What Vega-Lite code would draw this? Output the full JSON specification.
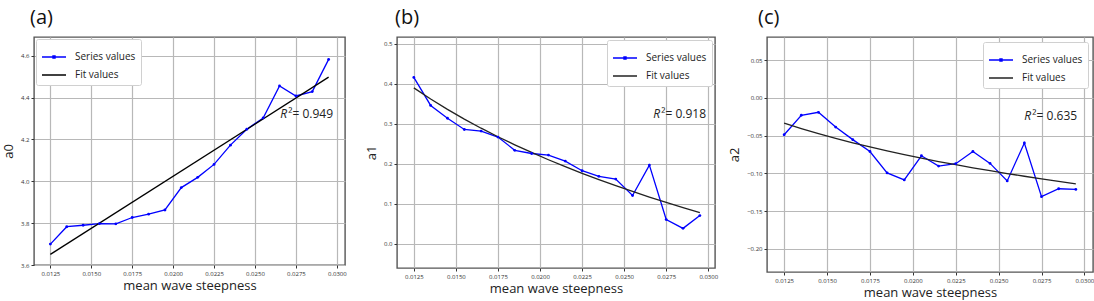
{
  "$schema": "https://vega.github.io/schema/vega-lite/v6.json",
  "padding": {"left": 1, "top": 7, "right": 2, "bottom": 0},
  "bounds": "flush",
  "spacing": 52,
  "datasets": {
    "a": [
      {"x": 0.0125, "y": 3.70, "k": "Series values"},
      {"x": 0.0135, "y": 3.783, "k": "Series values"},
      {"x": 0.0145, "y": 3.79, "k": "Series values"},
      {"x": 0.0155, "y": 3.798, "k": "Series values"},
      {"x": 0.0165, "y": 3.797, "k": "Series values"},
      {"x": 0.0175, "y": 3.827, "k": "Series values"},
      {"x": 0.0185, "y": 3.843, "k": "Series values"},
      {"x": 0.0195, "y": 3.863, "k": "Series values"},
      {"x": 0.0205, "y": 3.97, "k": "Series values"},
      {"x": 0.0215, "y": 4.019, "k": "Series values"},
      {"x": 0.0225, "y": 4.081, "k": "Series values"},
      {"x": 0.0235, "y": 4.173, "k": "Series values"},
      {"x": 0.0245, "y": 4.249, "k": "Series values"},
      {"x": 0.0255, "y": 4.303, "k": "Series values"},
      {"x": 0.0265, "y": 4.456, "k": "Series values"},
      {"x": 0.0275, "y": 4.408, "k": "Series values"},
      {"x": 0.0285, "y": 4.429, "k": "Series values"},
      {"x": 0.0295, "y": 4.583, "k": "Series values"},
      {"x": 0.0125, "y": 3.651, "k": "Fit values"},
      {"x": 0.0295, "y": 4.498, "k": "Fit values"}
    ],
    "b": [
      {"x": 0.0125, "y": 0.416, "k": "Series values"},
      {"x": 0.0135, "y": 0.346, "k": "Series values"},
      {"x": 0.0145, "y": 0.314, "k": "Series values"},
      {"x": 0.0155, "y": 0.286, "k": "Series values"},
      {"x": 0.0165, "y": 0.282, "k": "Series values"},
      {"x": 0.0175, "y": 0.267, "k": "Series values"},
      {"x": 0.0185, "y": 0.234, "k": "Series values"},
      {"x": 0.0195, "y": 0.226, "k": "Series values"},
      {"x": 0.0205, "y": 0.222, "k": "Series values"},
      {"x": 0.0215, "y": 0.207, "k": "Series values"},
      {"x": 0.0225, "y": 0.183, "k": "Series values"},
      {"x": 0.0235, "y": 0.169, "k": "Series values"},
      {"x": 0.0245, "y": 0.162, "k": "Series values"},
      {"x": 0.0255, "y": 0.121, "k": "Series values"},
      {"x": 0.0265, "y": 0.197, "k": "Series values"},
      {"x": 0.0275, "y": 0.061, "k": "Series values"},
      {"x": 0.0285, "y": 0.039, "k": "Series values"},
      {"x": 0.0295, "y": 0.071, "k": "Series values"},
      {"x": 0.0125, "y": 0.390, "k": "Fit values"},
      {"x": 0.0135, "y": 0.3621, "k": "Fit values"},
      {"x": 0.0145, "y": 0.3361, "k": "Fit values"},
      {"x": 0.0155, "y": 0.3119, "k": "Fit values"},
      {"x": 0.0165, "y": 0.2892, "k": "Fit values"},
      {"x": 0.0175, "y": 0.2679, "k": "Fit values"},
      {"x": 0.0185, "y": 0.2477, "k": "Fit values"},
      {"x": 0.0195, "y": 0.2286, "k": "Fit values"},
      {"x": 0.0205, "y": 0.2104, "k": "Fit values"},
      {"x": 0.0215, "y": 0.1931, "k": "Fit values"},
      {"x": 0.0225, "y": 0.1766, "k": "Fit values"},
      {"x": 0.0235, "y": 0.1608, "k": "Fit values"},
      {"x": 0.0245, "y": 0.1457, "k": "Fit values"},
      {"x": 0.0255, "y": 0.1312, "k": "Fit values"},
      {"x": 0.0265, "y": 0.1172, "k": "Fit values"},
      {"x": 0.0275, "y": 0.1038, "k": "Fit values"},
      {"x": 0.0285, "y": 0.0909, "k": "Fit values"},
      {"x": 0.0295, "y": 0.0783, "k": "Fit values"}
    ],
    "c": [
      {"x": 0.0125, "y": -0.0488, "k": "Series values"},
      {"x": 0.0135, "y": -0.0230, "k": "Series values"},
      {"x": 0.0145, "y": -0.0191, "k": "Series values"},
      {"x": 0.0155, "y": -0.0387, "k": "Series values"},
      {"x": 0.0165, "y": -0.0553, "k": "Series values"},
      {"x": 0.0175, "y": -0.0710, "k": "Series values"},
      {"x": 0.0185, "y": -0.0994, "k": "Series values"},
      {"x": 0.0195, "y": -0.1087, "k": "Series values"},
      {"x": 0.0205, "y": -0.0767, "k": "Series values"},
      {"x": 0.0215, "y": -0.0903, "k": "Series values"},
      {"x": 0.0225, "y": -0.0872, "k": "Series values"},
      {"x": 0.0235, "y": -0.0710, "k": "Series values"},
      {"x": 0.0245, "y": -0.0868, "k": "Series values"},
      {"x": 0.0255, "y": -0.1100, "k": "Series values"},
      {"x": 0.0265, "y": -0.0597, "k": "Series values"},
      {"x": 0.0275, "y": -0.1309, "k": "Series values"},
      {"x": 0.0285, "y": -0.1204, "k": "Series values"},
      {"x": 0.0295, "y": -0.1213, "k": "Series values"},
      {"x": 0.0125, "y": -0.0335, "k": "Fit values"},
      {"x": 0.0135, "y": -0.0407, "k": "Fit values"},
      {"x": 0.0145, "y": -0.0474, "k": "Fit values"},
      {"x": 0.0155, "y": -0.0536, "k": "Fit values"},
      {"x": 0.0165, "y": -0.0595, "k": "Fit values"},
      {"x": 0.0175, "y": -0.0650, "k": "Fit values"},
      {"x": 0.0185, "y": -0.0702, "k": "Fit values"},
      {"x": 0.0195, "y": -0.0751, "k": "Fit values"},
      {"x": 0.0205, "y": -0.0798, "k": "Fit values"},
      {"x": 0.0215, "y": -0.0843, "k": "Fit values"},
      {"x": 0.0225, "y": -0.0885, "k": "Fit values"},
      {"x": 0.0235, "y": -0.0926, "k": "Fit values"},
      {"x": 0.0245, "y": -0.0965, "k": "Fit values"},
      {"x": 0.0255, "y": -0.1002, "k": "Fit values"},
      {"x": 0.0265, "y": -0.1038, "k": "Fit values"},
      {"x": 0.0275, "y": -0.1073, "k": "Fit values"},
      {"x": 0.0285, "y": -0.1106, "k": "Fit values"},
      {"x": 0.0295, "y": -0.1139, "k": "Fit values"}
    ],
    "ra": [{"x": 0.02655, "y": 4.32, "label": "²= 0.949"}],
    "rb": [{"x": 0.02673, "y": 0.3245, "label": "²= 0.918"}],
    "rc": [{"x": 0.0265, "y": -0.0243, "label": "²= 0.635"}]
  },
  "hconcat": [
    {
      "width": 311, "height": 228,
      "title": {"text": "(a)", "dx": -4},
      "data": {"name": "a"},
      "encoding": {
        "x": {"field": "x", "type": "quantitative", "scale": {"domain": [0.0115, 0.0305], "nice": false, "zero": false},
              "axis": {"title": "mean wave steepness", "values": [0.0125, 0.015, 0.0175, 0.02, 0.0225, 0.025, 0.0275, 0.03], "format": ".4f"}},
        "y": {"field": "y", "type": "quantitative", "scale": {"domain": [3.6, 4.69], "nice": false, "zero": false},
              "axis": {"title": "a0", "values": [3.6, 3.8, 4.0, 4.2, 4.4, 4.6], "format": ".1f"}}
      },
      "layer": [
        {"mark": {"type": "line", "strokeWidth": 1.3},
         "encoding": {"color": {"field": "k", "type": "nominal", "scale": {"domain": ["Series values", "Fit values"], "range": ["#0000ff", "#000000"]},
            "legend": {"orient": "top-left", "title": null, "offset": 2,
              "encode": {"symbols": {"update": {"shape": {"signal": "datum.value === 'Series values' ? 'M-1,0H1M-0.08,-0.08H0.08V0.08H-0.08Z' : 'M-1,0H1'"}}}}}}}},
        {"transform": [{"filter": "datum.k === 'Series values'"}],
         "mark": {"type": "point", "filled": true, "size": 8, "color": "#0000ff", "opacity": 1}},
        {"data": {"name": "ra"}, "mark": {"type": "text", "text": "R", "fontStyle": "italic", "fontSize": 12, "align": "left", "baseline": "middle", "color": "#222"}},
        {"data": {"name": "ra"}, "mark": {"type": "text", "dx": 8, "fontSize": 12, "align": "left", "baseline": "middle", "color": "#222"},
         "encoding": {"text": {"field": "label"}}}
      ]
    },
    {
      "width": 318, "height": 231,
      "title": {"text": "(b)", "dx": -2},
      "data": {"name": "b"},
      "encoding": {
        "x": {"field": "x", "type": "quantitative", "scale": {"domain": [0.0115, 0.0304], "nice": false, "zero": false},
              "axis": {"title": "mean wave steepness", "values": [0.0125, 0.015, 0.0175, 0.02, 0.0225, 0.025, 0.0275, 0.03], "format": ".4f"}},
        "y": {"field": "y", "type": "quantitative", "scale": {"domain": [-0.06, 0.517], "nice": false, "zero": false},
              "axis": {"title": "a1", "values": [0, 0.1, 0.2, 0.3, 0.4, 0.5], "format": ".1f"}}
      },
      "layer": [
        {"mark": {"type": "line", "strokeWidth": 1.3},
         "encoding": {"color": {"field": "k", "type": "nominal", "scale": {"domain": ["Series values", "Fit values"], "range": ["#0000ff", "#222222"]},
            "legend": {"orient": "top-right", "title": null, "offset": 3,
              "encode": {"symbols": {"update": {"shape": {"signal": "datum.value === 'Series values' ? 'M-1,0H1M-0.08,-0.08H0.08V0.08H-0.08Z' : 'M-1,0H1'"}}}}}}}},
        {"transform": [{"filter": "datum.k === 'Series values'"}],
         "mark": {"type": "point", "filled": true, "size": 8, "color": "#0000ff", "opacity": 1}},
        {"data": {"name": "rb"}, "mark": {"type": "text", "text": "R", "fontStyle": "italic", "fontSize": 12, "align": "left", "baseline": "middle", "color": "#222"}},
        {"data": {"name": "rb"}, "mark": {"type": "text", "dx": 8, "fontSize": 12, "align": "left", "baseline": "middle", "color": "#222"},
         "encoding": {"text": {"field": "label"}}}
      ]
    },
    {
      "width": 326, "height": 235,
      "title": {"text": "(c)", "dx": -9},
      "data": {"name": "c"},
      "encoding": {
        "x": {"field": "x", "type": "quantitative", "scale": {"domain": [0.0115, 0.0305], "nice": false, "zero": false},
              "axis": {"title": "mean wave steepness", "values": [0.0125, 0.015, 0.0175, 0.02, 0.0225, 0.025, 0.0275, 0.03], "format": ".4f"}},
        "y": {"field": "y", "type": "quantitative", "scale": {"domain": [-0.2307, 0.0807], "nice": false, "zero": false},
              "axis": {"title": "a2", "values": [-0.2, -0.15, -0.1, -0.05, 0, 0.05], "format": ".2f"}}
      },
      "layer": [
        {"mark": {"type": "line", "strokeWidth": 1.3},
         "encoding": {"color": {"field": "k", "type": "nominal", "scale": {"domain": ["Series values", "Fit values"], "range": ["#0000ff", "#222222"]},
            "legend": {"orient": "top-right", "title": null, "offset": 5,
              "encode": {"symbols": {"update": {"shape": {"signal": "datum.value === 'Series values' ? 'M-1,0H1M-0.08,-0.08H0.08V0.08H-0.08Z' : 'M-1,0H1'"}}}}}}}},
        {"transform": [{"filter": "datum.k === 'Series values'"}],
         "mark": {"type": "point", "filled": true, "size": 8, "color": "#0000ff", "opacity": 1}},
        {"data": {"name": "rc"}, "mark": {"type": "text", "text": "R", "fontStyle": "italic", "fontSize": 12, "align": "left", "baseline": "middle", "color": "#222"}},
        {"data": {"name": "rc"}, "mark": {"type": "text", "dx": 8, "fontSize": 12, "align": "left", "baseline": "middle", "color": "#222"},
         "encoding": {"text": {"field": "label"}}}
      ]
    }
  ],
  "resolve": {"scale": {"x": "independent", "y": "independent", "color": "independent"}, "legend": {"color": "independent"}},
  "config": {
    "font": "Open Sans",
    "view": {"stroke": "#555555", "strokeWidth": 1.4},
    "axis": {"domain": false, "grid": true, "gridColor": "#b8b8b8", "gridWidth": 1.2, "tickColor": "#333333", "tickSize": 3, "tickWidth": 1,
             "labelFontSize": 6, "labelColor": "#333333", "labelPadding": 2, "titleFontSize": 13, "titleFontWeight": "normal", "titleColor": "#222222"},
    "axisX": {"titlePadding": 3},
    "axisY": {"titlePadding": 5},
    "legend": {"labelFontSize": 10, "labelColor": "#222222", "symbolSize": 576, "symbolStrokeWidth": 1.5, "symbolType": "stroke", "labelOffset": 8,
               "padding": 5, "rowPadding": -8, "strokeColor": "#d0d0d0", "fillColor": "#ffffff", "cornerRadius": 2},
    "title": {"fontSize": 20, "fontWeight": "normal", "anchor": "start", "frame": "group", "baseline": "alphabetic", "offset": 9, "color": "#111111"}
  }
}
